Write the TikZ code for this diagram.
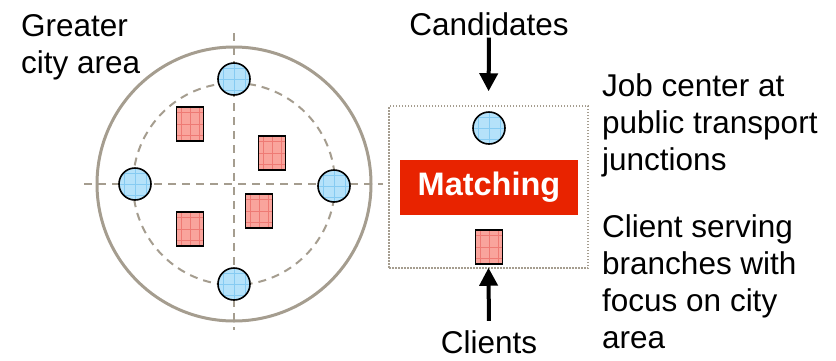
\documentclass[tikz,border=0pt]{standalone}
\usepackage{fontspec}
\setmainfont{Liberation Sans}
\usepackage{xcolor}
\usetikzlibrary{arrows.meta,positioning,calc}

\definecolor{ringgray}{HTML}{A59D8F}
\definecolor{officeblue}{HTML}{B5E2FA}
\definecolor{officegrid}{HTML}{86CBF2}
\definecolor{branchpink}{HTML}{F9A49C}
\definecolor{branchgrid}{HTML}{EE7A74}
\definecolor{matchred}{HTML}{E82300}

\begin{document}
\begin{tikzpicture}[x=1pt,y=-1pt]
  \tikzstyle{txt}=[inner sep=0pt, font=\fontsize{31.5}{37}\selectfont, align=left]
  \tikzstyle{office}=[circle, draw=black, line width=1.6pt, fill=officeblue, minimum size=32pt, inner sep=0pt,
    path picture={\begin{scope}[shift={(path picture bounding box.center)}]
      \draw[officegrid, line width=0.6pt] (-27.5,27.5) grid[xstep=11pt, ystep=11pt] (27.5,-27.5);
    \end{scope}}]
  \tikzstyle{branch}=[rectangle, draw=black, line width=1.6pt, fill=branchpink, minimum width=27pt, minimum height=34pt, inner sep=0pt,
    path picture={\begin{scope}[shift={(path picture bounding box.center)}]
      \draw[branchgrid, line width=0.6pt] (-13.5,17) grid[xstep=9pt, ystep=11.333pt] (13.5,-17);
    \end{scope}}]
  \tikzstyle{axis}=[ringgray, line width=2pt, dash pattern=on 8pt off 6pt]
  \tikzstyle{bigarrow}=[line width=4pt, -{Triangle[width=18pt,length=18pt]}]

  \useasboundingbox (0,0) rectangle (836,360);

  % Stadtgebiet
  \coordinate (c) at (234,184);
  \draw[ringgray, line width=3pt] (c) circle[radius=137];
  \draw[axis] (c) circle[radius=101];
  \draw[axis] (84,184) -- (383,184);
  \draw[axis] (234,33) -- (234,330);

  % Job center an den Knotenpunkten
  \node[office] (o1) at (234,79) {};
  \node[office] (o2) at (135,184) {};
  \node[office] (o3) at (334,186) {};
  \node[office] (o4) at (234,284) {};

  % Filialen
  \node[branch] (b1) at (190,124) {};
  \node[branch] (b2) at (272,153) {};
  \node[branch] (b3) at (190,229) {};
  \node[branch] (b4) at (259,211) {};

  % Matching
  \node[draw=ringgray, line width=1.5pt, dash pattern=on 1.5pt off 1.5pt, minimum width=199pt, minimum height=162pt, inner sep=0pt] (frame) at (488.5,187) {};
  \node[office] (jc) at (489,128) {};
  \node[rectangle, fill=matchred, minimum width=178pt, minimum height=55pt, inner sep=0pt, text=white, font=\fontsize{32.5}{37}\selectfont\bfseries] (match) at (489,187.5) {Matching};
  \node[branch] (br) at (489,247) {};

  \node[txt, anchor=base] (cand) at (489,35) {Candidates};
  \node[txt, anchor=base] (clients) at (489,353) {Clients};
  \draw[bigarrow, shorten <=2pt, shorten >=14pt] (cand.south) -- (frame.north);
  \draw[bigarrow, shorten <=9pt, shorten >=-1pt] (clients.north) -- (frame.south);

  % Beschriftungen (Anker an der letzten Zeile)
  \node[txt, anchor=base west] (city) at (21,73) {Greater\\city area};
  \node[txt, anchor=base west] (jobtxt) at (602,170) {Job center at\\public transport\\junctions};
  \node[txt, anchor=base west] (branchtxt) at (602,348) {Client serving\\branches with\\focus on city\\area};
\end{tikzpicture}
\end{document}
